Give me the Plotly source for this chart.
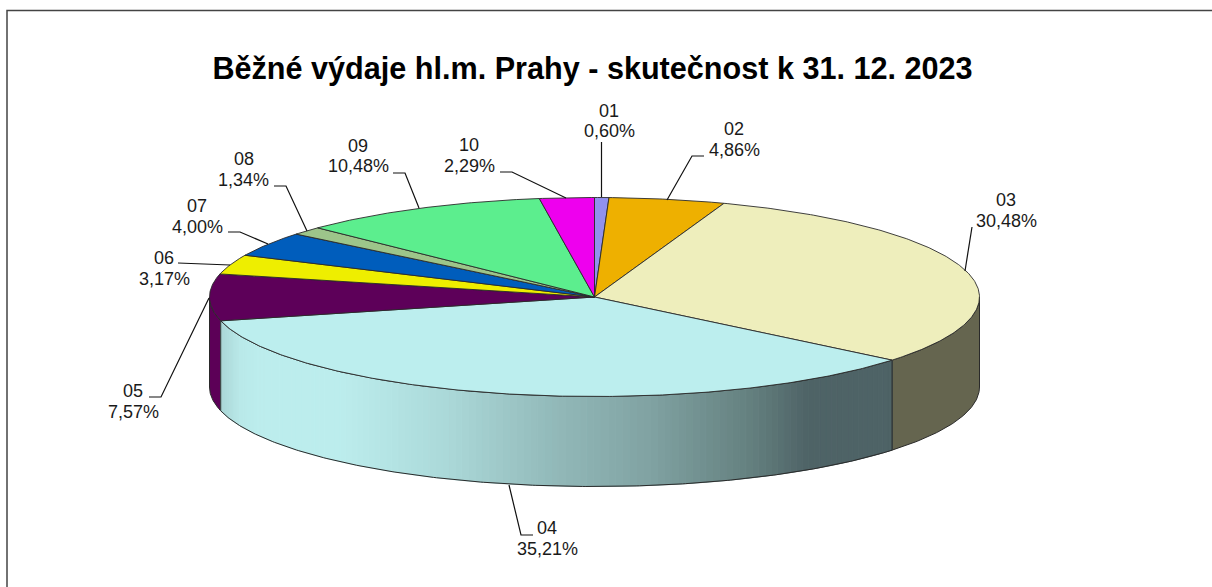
import numpy as np
import plotly.graph_objects as go

TITLE = "Běžné výdaje hl.m. Prahy - skutečnost k 31. 12. 2023"
codes = ["01", "02", "03", "04", "05", "06", "07", "08", "09", "10"]
values = [0.60, 4.86, 30.48, 35.21, 7.57, 3.17, 4.00, 1.34, 10.48, 2.29]
top_colors = ["#9191EE", "#EEB000", "#EEEEBC", "#BCEEEE", "#5D0059",
              "#EEEE00", "#005DBC", "#9DC58A", "#5CEE8E", "#EE00EE"]

# geometry of the tilted pie, in page pixels
CX, CY, RX, RY, DEPTH = 594.5, 297.0, 385.0, 99.5, 90.0
FONT = "Liberation Sans"
INK = "#1a1a1a"
EDGE = "#2a2a2a"

# label centres (x, first line y, second line y)
label_pos = [(609, 111, 131), (734, 129, 150), (1006, 200, 221), (547, 528, 549),
             (133, 391, 412), (164, 258, 279), (197, 206, 227), (243.5, 159, 180),
             (358, 146, 166), (469, 145, 166)]
leaders = [[(601.5, 142), (601.5, 197)],
           [(704, 156), (692, 156), (667, 200)],
           [(972, 227), (965, 271)],
           [(533, 535), (521, 535), (509, 485)],
           [(149, 397), (161, 397), (209, 298)],
           [(178, 263), (230, 265)],
           [(228, 232), (240, 232), (268, 244)],
           [(274, 186), (286, 186), (307, 231)],
           [(393, 173), (405, 173), (419, 208)],
           [(500, 172), (512, 172), (566, 198)]]
# horizontal shading of the 04 wall: (x, colour)
wall_stops = [(219, (0xA9, 0xD5, 0xD5)), (240, (0xB9, 0xE9, 0xE9)), (260, (0xBC, 0xED, 0xED)),
              (340, (0xBC, 0xED, 0xED)), (450, (0xAA, 0xD8, 0xD8)), (550, (0x93, 0xBA, 0xBA)),
              (650, (0x80, 0xA2, 0xA2)), (750, (0x64, 0x80, 0x7F)), (808, (0x4E, 0x63, 0x66)),
              (892, (0x4E, 0x63, 0x66))]
WALL_03 = "#65654F"
WALL_05 = "#5C0057"


def rim(a0, a1, n=None):
    """Points on the rim between two pie angles (degrees, clockwise from 12 o'clock)."""
    n = n or max(2, int(abs(a1 - a0) * 2) + 2)
    t = np.radians(np.linspace(a0, a1, n))
    return CX + RX * np.sin(t), CY - RY * np.cos(t)


def wall(a0, a1):
    x, y = rim(a0, a1)
    return (np.r_[x, x[::-1], x[0]], np.r_[y, y[::-1] + DEPTH, y[0]])


def wall_color(x):
    xs = [s[0] for s in wall_stops]
    c = [np.interp(x, xs, [s[1][i] for s in wall_stops]) for i in range(3)]
    return "rgb(%d,%d,%d)" % tuple(round(v) for v in c)


def poly(x, y, fill=None, line=None, width=1.0):
    return go.Scatter(x=list(x), y=list(y), mode="lines", hoverinfo="skip", showlegend=False,
                      fill="toself" if fill else None, fillcolor=fill,
                      line=dict(color=line or fill, width=width if line or fill else 0))


edges = np.r_[0, np.cumsum(values)] / sum(values) * 360.0
fig = go.Figure()

# front walls: 03, 04, 05 are the only slices crossing the visible half
a03 = edges[2], edges[3]
a04 = edges[3], edges[4]
a05 = edges[4], edges[5]

x, y = wall(90, a03[1])
fig.add_trace(poly(x, y, WALL_03, EDGE, 1))
x, y = wall(a05[0], 270)
fig.add_trace(poly(x, y, WALL_05, EDGE, 1))

# 04 wall is split in narrow vertical strips to carry its shading
strip_edges = np.linspace(a04[0], a04[1], 121)
for s0, s1 in zip(strip_edges[:-1], strip_edges[1:]):
    x, y = wall(s0, s1)
    col = wall_color(CX + RX * np.sin(np.radians((s0 + s1) / 2)))
    fig.add_trace(poly(x, y, col, col, 1))
x, y = wall(a04[0], a04[1])
fig.add_trace(poly(x, y, None, EDGE, 1))

# top face
for i, col in enumerate(top_colors):
    x, y = rim(edges[i], edges[i + 1])
    fig.add_trace(poly(np.r_[CX, x, CX], np.r_[CY, y, CY], col, EDGE, 0.9))

# leader lines
for pts in leaders:
    fig.add_trace(poly([p[0] for p in pts], [p[1] for p in pts], None, "#111111", 1.2))

annotations = []
for code, v, (lx, y1, y2) in zip(codes, values, label_pos):
    for txt, ly in ((code, y1), (f"{v:.2f}".replace(".", ",") + "%", y2)):
        annotations.append(dict(x=lx, y=ly, xref="x", yref="y", text=txt, showarrow=False,
                                xanchor="center", yanchor="middle",
                                font=dict(family=FONT, size=18, color=INK)))

fig.update_layout(
    width=1212, height=587, autosize=False,
    margin=dict(l=0, r=0, t=0, b=0),
    paper_bgcolor="white", plot_bgcolor="white", showlegend=False,
    title=dict(text=TITLE, x=592.5 / 1212, y=1 - 68 / 587, xanchor="center", yanchor="middle",
               xref="paper", yref="paper",
               font=dict(family=FONT, size=30.6, color="black", weight=700)),
    xaxis=dict(range=[0, 1212], visible=False, fixedrange=True),
    yaxis=dict(range=[587, 0], visible=False, fixedrange=True),
    annotations=annotations,
    shapes=[dict(type="path", xref="x", yref="y", layer="above",
                 path="M 7 600 L 7 10.5 L 1220 10.5",
                 line=dict(color="#444444", width=1.5))],
)
fig.write_html("out.html", config=dict(displayModeBar=False),
               post_script="document.body.style.margin='0';")
